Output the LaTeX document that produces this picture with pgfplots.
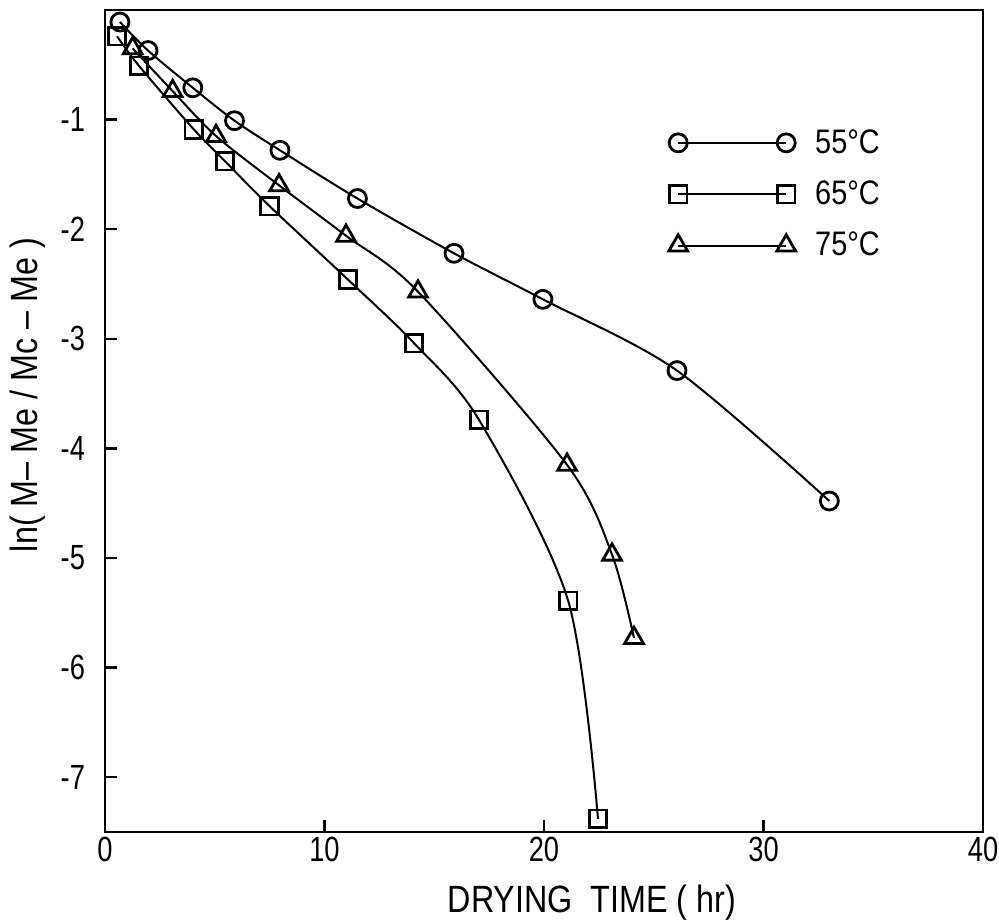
\documentclass[border=0pt]{standalone}
\usepackage{pgfplots}
\pgfplotsset{compat=1.18}
\usepackage{fontspec}
\setmainfont{Liberation Sans}[FakeStretch=0.85]
\newfontfamily\tickfont{Liberation Sans}[FakeStretch=0.78]
\begin{document}
\begin{tikzpicture}
\begin{axis}[
  scale only axis,
  width=439pt, height=411pt,
  xmin=0, xmax=40, ymin=-7.5, ymax=0,
  xtick={0,10,20,30,40},
  ytick={-7,-6,-5,-4,-3,-2,-1},
  tick align=inside,
  xtick pos=bottom, ytick pos=left,
  major tick length=6pt,
  axis line style={line width=1.4pt},
  every tick/.style={line width=1.2pt, black},
  /pgf/number format/assume math mode=true,
  ticklabel style={font=\tickfont\fontsize{17.5}{20}\selectfont},
  yticklabel style={xshift=-6.5pt},
  xticklabel style={yshift=1pt},
  xlabel={DRYING\ \ TIME ( hr)},
  ylabel={ln( M– Me / Mc – Me )},
  label style={font=\fontsize{19}{22}\selectfont},
  xlabel style={at={(rel axis cs:0.5,0)}, anchor=center, yshift=-35.5pt, xshift=24pt},
  ylabel style={at={(rel axis cs:0,0.5)}, anchor=center, xshift=13pt, yshift=38.5pt},
  legend image code/.code={\draw[#1] plot coordinates {(0pt,0pt) (54pt,0pt)};\path (66pt,0pt);},
  legend style={draw=none, fill=none, at={(axis cs:25.67,-1.05)}, anchor=north west,
     font=\fontsize{17}{20}\selectfont, row sep=8.3pt, cells={anchor=west},
     inner sep=0pt},
  legend cell align=left,
  clip=false,
]
\coordinate (sw) at (rel axis cs:0,0);
\coordinate (ne) at (rel axis cs:1,1);
\addplot[black, line width=1pt, smooth, tension=0.5, mark=o, mark size=4.5pt, mark options={line width=1.4pt, fill=white}] coordinates {
 (0.68,-0.11) (1.96,-0.37) (4.0,-0.71) (5.9,-1.01) (7.97,-1.28) (11.5,-1.72)
 (15.9,-2.22) (19.95,-2.64) (26.06,-3.29) (33.0,-4.48)};
\addlegendentry{55°C}
\addplot[black, line width=1pt, smooth, tension=0.5, mark=square, mark size=4.4pt, mark options={line width=1.4pt, fill=white}] coordinates {
 (0.55,-0.24) (1.55,-0.51) (4.05,-1.09) (5.47,-1.38) (7.5,-1.79) (11.07,-2.46)
 (14.08,-3.04) (17.04,-3.74) (21.1,-5.39) (22.46,-7.38)};
\addlegendentry{65°C}
\addplot[black, line width=1pt, smooth, tension=0.5, mark=triangle, mark size=5.4pt, mark options={line width=1.4pt, fill=white}] coordinates {
 (1.26,-0.35) (3.08,-0.74) (5.06,-1.15) (7.93,-1.6) (10.98,-2.06) (14.26,-2.57)
 (21.05,-4.15) (23.1,-4.97) (24.1,-5.73)};
\addlegendentry{75°C}
\end{axis}
\pgfresetboundingbox
\path ([shift={(-52.5pt,-45.5pt)}]sw) rectangle ([shift={(8pt,5pt)}]ne);
\end{tikzpicture}
\end{document}
